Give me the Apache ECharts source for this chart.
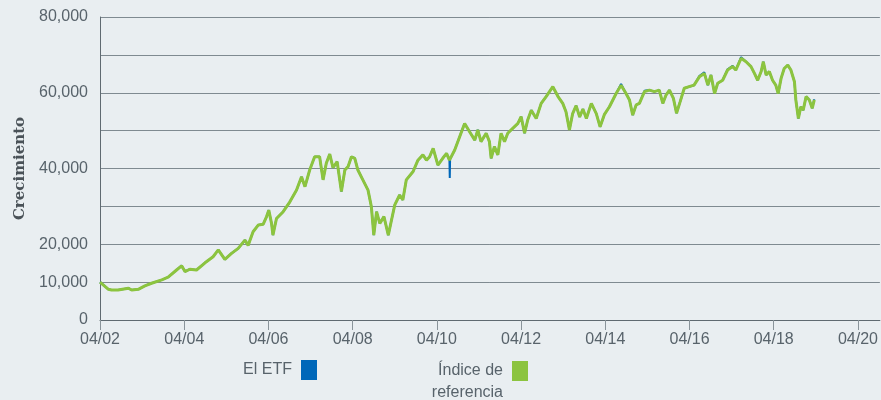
<!DOCTYPE html>
<html>
<head>
<meta charset="utf-8">
<script src="https://cdn.jsdelivr.net/npm/echarts@6/dist/echarts.min.js"></script>
<style>
    html, body { margin: 0; padding: 0; background: #e9eef1; }
    #main { width: 881px; height: 400px; }
</style>
</head>
<body>
<div id="main"></div>
<script>
// fechas de los puntos
var dates = [
    '2002-04-01', '2002-06-13', '2002-07-10', '2002-09-04', '2002-12-04', '2003-01-01', '2003-02-27', '2003-04-25', '2003-06-22', '2003-09-19', '2003-11-13',
    '2004-01-25', '2004-03-09', '2004-04-07', '2004-05-19', '2004-07-16', '2004-09-28', '2004-12-07',
    '2005-01-21', '2005-03-19', '2005-05-16', '2005-07-13', '2005-09-09', '2005-10-07', '2005-11-19',
    '2006-01-04', '2006-02-15', '2006-03-16', '2006-04-04', '2006-04-28', '2006-05-10', '2006-06-10', '2006-08-07', '2006-10-04', '2006-12-01',
    '2007-01-13', '2007-02-12', '2007-03-25', '2007-05-07', '2007-06-19', '2007-07-19', '2007-08-16', '2007-09-15', '2007-10-13', '2007-11-18', '2007-12-25',
    '2008-01-24', '2008-02-21', '2008-03-21', '2008-04-19', '2008-05-16', '2008-06-28', '2008-08-12', '2008-09-10', '2008-10-01', '2008-10-25', '2008-11-22', '2008-12-28',
    '2009-02-04', '2009-03-01', '2009-04-01', '2009-05-13', '2009-06-10', '2009-07-10', '2009-09-07', '2009-10-19', '2009-12-01',
    '2010-01-01', '2010-01-28', '2010-02-28', '2010-04-10', '2010-05-22', '2010-06-24', '2010-07-19', '2010-07-22', '2010-07-25', '2010-09-03', '2010-10-16', '2010-11-28',
    '2011-01-10', '2011-02-24', '2011-03-22', '2011-04-19', '2011-06-03', '2011-07-01', '2011-07-16', '2011-08-13', '2011-09-12', '2011-10-10', '2011-11-09', '2011-12-07',
    '2012-01-19', '2012-03-04', '2012-04-01', '2012-05-01', '2012-05-28', '2012-06-28', '2012-08-10', '2012-09-22', '2012-11-04',
    '2013-01-01', '2013-02-15', '2013-03-28', '2013-04-25', '2013-05-25', '2013-06-22', '2013-07-22', '2013-08-22', '2013-09-19', '2013-10-19', '2013-12-01',
    '2014-01-13', '2014-02-15', '2014-03-25', '2014-05-07', '2014-07-04', '2014-08-16', '2014-09-28', '2014-10-28', '2014-11-25', '2014-12-25',
    '2015-01-22', '2015-03-07', '2015-04-19', '2015-06-01', '2015-07-13', '2015-08-13', '2015-09-10', '2015-10-10', '2015-11-13', '2015-12-10',
    '2016-01-10', '2016-02-15', '2016-03-28', '2016-05-10', '2016-06-25', '2016-08-07', '2016-09-07', '2016-10-04', '2016-11-04', '2016-12-01',
    '2017-01-13', '2017-02-25', '2017-04-10', '2017-05-07', '2017-06-22', '2017-08-04', '2017-09-16', '2017-10-16', '2017-11-13', '2017-12-13',
    '2018-01-01', '2018-01-25', '2018-02-22', '2018-03-22', '2018-04-19', '2018-05-10', '2018-06-04', '2018-07-01', '2018-08-01', '2018-08-28', '2018-09-28', '2018-10-10', '2018-11-01', '2018-11-22', '2018-12-13',
    '2019-01-07', '2019-02-04', '2019-03-01', '2019-03-19'
];

// Indice de referencia
var indexValues = [
    10000, 8100, 7900, 7900, 8400, 7900, 8100, 9000, 9700, 10600, 11300,
    13200, 14300, 12800, 13400, 13200, 15100, 16700,
    18500, 16000, 17600, 18900, 21100, 19700, 23300,
    25100, 25300, 27300, 29000, 25500, 22400, 26800, 28600, 31200, 34300,
    37800, 35200, 39600, 43100, 43100, 37000, 41400, 43800, 40200, 41800, 33900,
    39600, 40500, 43100, 42700, 39600, 37000, 34300, 29900, 22400, 28600, 25500, 27300,
    22400, 26000, 30400, 33000, 31700, 37000, 39200, 42200, 43600,
    42200, 43100, 45300, 40900, 42700, 44000, 42200, 42000, 42400, 44900, 48400, 51900,
    49700, 47500, 50200, 47100, 49300, 47100, 42700, 45800, 43600, 49300, 47100, 49300,
    50600, 51900, 53700, 49300, 52800, 55400, 53200, 57200, 59000,
    61600, 59000, 57200, 55000, 50200, 54500, 56600, 53600, 55700, 53200, 57200,
    54500, 51000, 54300, 56300, 59800, 62000, 59800, 58100, 54100, 56800,
    57200, 60300, 60700, 60300, 60700, 57200, 59400, 60700, 58500, 54600,
    57600, 61200, 61600, 62000, 64200, 65100, 62000, 64700, 59800, 62500,
    63300, 66000, 66900, 66000, 69100, 68200, 66900, 65100, 63300, 65600,
    68200, 64700, 65600, 63300, 62000, 59800, 63800, 66400, 67300, 66000, 62900, 58100, 53200, 56300, 55400,
    59000, 58100, 55900, 58100
];

// El ETF (casi igual, con el pico de 2010)
var etfValues = [
    10000, 8100, 7900, 7900, 8400, 7900, 8100, 9000, 9700, 10600, 11300,
    13200, 14400, 12800, 13400, 13200, 15100, 16700,
    18500, 16000, 17600, 18900, 21100, 19700, 23300,
    25100, 25300, 27300, 29000, 25500, 22400, 26800, 28600, 31200, 34300,
    37800, 35200, 39600, 43100, 43100, 37000, 41400, 43800, 40200, 41800, 33900,
    39600, 40500, 43100, 42700, 39600, 37000, 34300, 29900, 22400, 28600, 25500, 27300,
    22400, 26000, 30400, 33000, 31700, 37000, 39200, 42200, 43600,
    42200, 43100, 45300, 40900, 42700, 44000, 42200, 37500, 42400, 44900, 48400, 51900,
    49700, 47500, 50200, 47100, 49300, 47100, 42700, 45800, 43600, 49300, 47100, 49300,
    50600, 51900, 53700, 49300, 52800, 55400, 53200, 57200, 59000,
    61600, 59000, 57200, 55000, 50200, 54500, 56600, 53600, 55700, 53200, 57200,
    54500, 51000, 54300, 56300, 59800, 62300, 59800, 58100, 54100, 56800,
    57200, 60500, 60700, 60300, 60700, 57200, 59400, 60700, 58500, 54600,
    57600, 61200, 61600, 62000, 64400, 65400, 62000, 64700, 59800, 62500,
    63300, 66200, 67100, 66000, 69400, 68200, 66900, 65100, 63300, 65600,
    68200, 64700, 65600, 63300, 62000, 59800, 63800, 66400, 67300, 66000, 62900, 58100, 53200, 56300, 55400,
    59000, 58100, 55900, 58300
];

var tickDates = ['2002-04-01', '2004-04-01', '2006-04-01', '2008-04-01', '2010-04-01',
    '2012-04-01', '2014-04-01', '2016-04-01', '2018-04-01', '2020-04-01'];
var yLabelValues = [0, 10000, 20000, 40000, 60000, 80000];

var textColor = '#58636b';
var gridColor = '#7f8a91';
var axisColor = '#5f6a71';

function toTime(s) {
    var p = s.split('-');
    return Date.UTC(+p[0], +p[1] - 1, +p[2]);
}

function pairs(values) {
    var out = [];
    for (var i = 0; i < dates.length; i++) {
        out.push([toTime(dates[i]), values[i]]);
    }
    return out;
}

var myChart = echarts.init(document.getElementById('main'));
var tickTimes = tickDates.map(toTime);

var option = {
    backgroundColor: '#e9eef1',
    animation: false,
    textStyle: { fontFamily: 'Liberation Sans, Arial, sans-serif' },
    grid: { left: 100, right: 0, top: 17, bottom: 80 },
    legend: [{
        data: ['El ETF'],
        align: 'right',
        icon: 'rect',
        itemWidth: 16,
        itemHeight: 20,
        padding: 0,
        selectedMode: false,
        right: 564,
        top: 359,
        textStyle: { fontSize: 16, color: textColor, lineHeight: 22, padding: [0, 4, 0, 0] }
    }, {
        data: ['Índice de referencia'],
        align: 'right',
        icon: 'rect',
        itemWidth: 16,
        itemHeight: 20,
        padding: 0,
        selectedMode: false,
        right: 353,
        top: 338,
        // linea vacia arriba para que "Índice de" quede a la altura del cuadro
        formatter: function () { return '\nÍndice de\nreferencia'; },
        textStyle: { fontSize: 16, color: textColor, lineHeight: 22, padding: [0, 4, 0, 0] }
    }],
    xAxis: {
        type: 'value',
        min: toTime('2002-04-01'),
        max: toTime('2020-10-08'),
        splitLine: { show: false },
        axisLine: { lineStyle: { color: axisColor, width: 1 } },
        axisTick: {
            show: true, length: 10, customValues: tickTimes,
            lineStyle: { color: '#8a949a', width: 1 }
        },
        axisLabel: {
            customValues: tickTimes,
            margin: 12,
            fontSize: 16,
            color: textColor,
            formatter: function (v) {
                var yy = new Date(v).getUTCFullYear() % 100;
                return '04/' + (yy < 10 ? '0' + yy : yy);
            }
        }
    },
    yAxis: {
        type: 'value',
        min: 0,
        max: 80000,
        interval: 10000,
        name: 'Crecimiento',
        nameLocation: 'middle',
        nameGap: 72,
        nameTextStyle: { fontFamily: 'DejaVu Serif', fontWeight: 'bold', fontSize: 15, color: '#4a5258' },
        axisLine: { show: true, lineStyle: { color: axisColor, width: 1 } },
        axisTick: { show: false },
        splitLine: { lineStyle: { color: gridColor, width: 1 } },
        axisLabel: {
            margin: 12,
            fontSize: 16,
            color: textColor,
            formatter: function (v) {
                if (yLabelValues.indexOf(v) < 0) return '';
                return v.toLocaleString('en-US');
            }
        }
    },
    series: [{
        name: 'El ETF',
        type: 'line',
        showSymbol: false,
        symbol: 'none',
        color: '#0067b9',
        lineStyle: { width: 2, color: '#0067b9' },
        data: pairs(etfValues)
    }, {
        name: 'Índice de referencia',
        type: 'line',
        showSymbol: false,
        symbol: 'none',
        color: '#8cc43f',
        lineStyle: { width: 3, color: '#8cc43f' },
        data: pairs(indexValues)
    }]
};
myChart.setOption(option);
</script>
</body>
</html>
